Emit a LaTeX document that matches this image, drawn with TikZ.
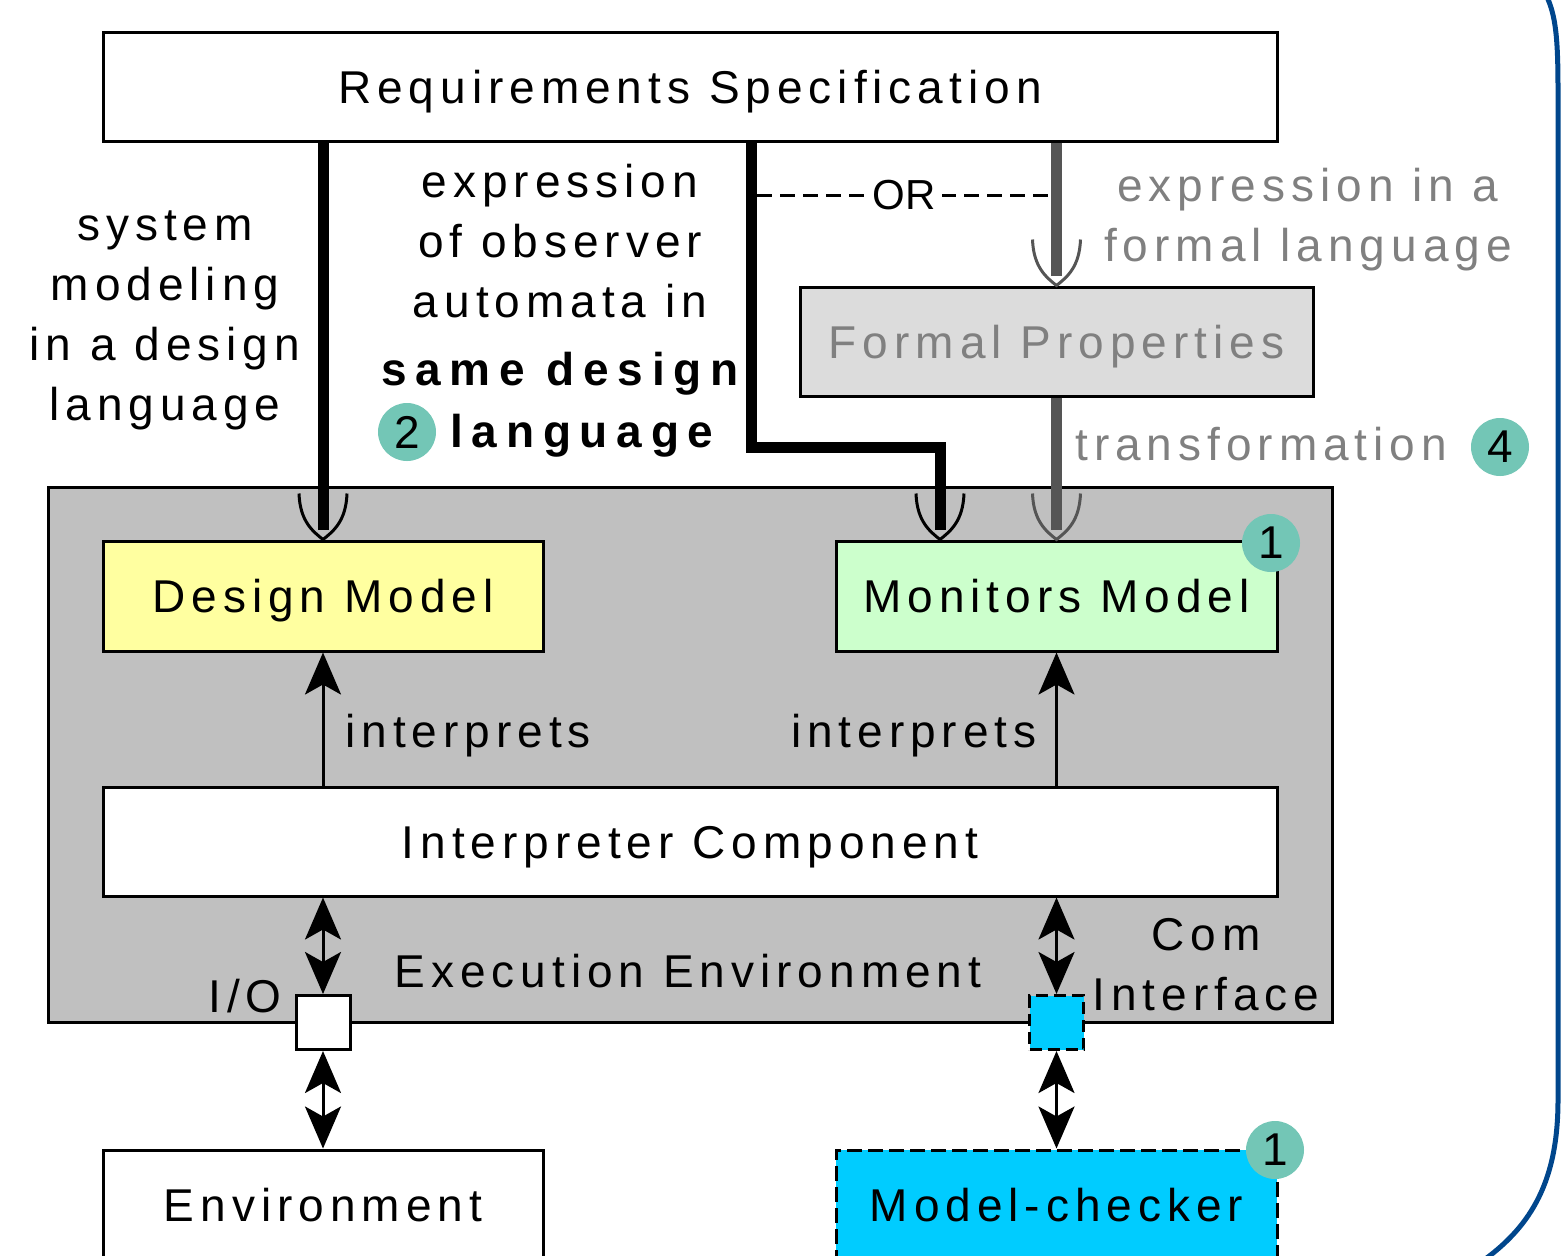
\documentclass[tikz,border=0pt]{standalone}
\usepackage{fontspec}
\setmainfont{Liberation Sans}[LetterSpace=13]
\usetikzlibrary{arrows.meta,calc}
\definecolor{envgray}{RGB}{192,192,192}
\definecolor{fpgray}{RGB}{220,220,220}
\definecolor{txtgray}{RGB}{128,128,128}
\definecolor{linegray}{RGB}{85,85,85}
\definecolor{dmyellow}{RGB}{255,255,160}
\definecolor{mmgreen}{RGB}{204,255,204}
\definecolor{cyanbox}{RGB}{0,204,255}
\definecolor{badgecol}{RGB}{115,198,182}
\definecolor{frameblue}{RGB}{0,70,140}
\tikzset{
  utip/.pic={\draw[line width=1.5pt] (-24,-46) .. controls (-23,-18) and (-10,-8) .. (0,0) .. controls (10,-8) and (23,-18) .. (24,-46);}
}
\newcommand{\bfspaced}[1]{{\bfseries\addfontfeature{LetterSpace=19}#1}}
\begin{document}
\begin{tikzpicture}[x=0.5pt, y=-0.5pt,
  every node/.style={inner sep=0pt},
  fnt/.style={font=\fontsize{23}{30}\selectfont},
  blk/.style={fnt, draw=black, line width=1.5pt, text height=16.5pt, text depth=0pt},
  thk/.style={line width=5.5pt, shorten >=5pt, line join=miter},
  arr/.style={line width=1.5pt, -{Stealth[length=21pt,width=18pt,inset=5pt]}},
  dbl/.style={line width=1.5pt, {Stealth[length=21pt,width=18pt,inset=5pt]}-{Stealth[length=21pt,width=18pt,inset=5pt]}},
  badge/.style={circle, fill=badgecol, minimum size=29pt, fnt},
  lbl/.style={fnt}
]
\useasboundingbox (0,0) rectangle (1564,1255);
\clip (0,0) rectangle (1564,1255);

% execution environment
\node[blk, fill=envgray, minimum width=642pt, minimum height=267.5pt] (ee) at (690,754.5) {};

% boxes
\node[blk, fill=white, minimum width=587pt, minimum height=54.5pt] (req) at (690,86.5) {Requirements Specification};
\node[blk, fill=fpgray, text=txtgray, minimum width=256.5pt, minimum height=54.5pt] (fp) at (1056.5,341.5) {Formal Properties};
\node[blk, fill=dmyellow, minimum width=220pt, minimum height=55pt] (dm) at (323,596) {Design Model};
\node[blk, fill=mmgreen, minimum width=220.5pt, minimum height=55pt] (mm) at (1056.5,596) {Monitors Model};
\node[blk, fill=white, minimum width=587pt, minimum height=54.5pt] (ic) at (690,841.5) {Interpreter Component};
\node[blk, fill=white, minimum width=27pt, minimum height=27pt] (io) at (323,1022.5) {};
\node[blk, fill=cyanbox, dash pattern=on 6pt off 3pt, minimum width=27pt, minimum height=27pt] (ci) at (1056.5,1022.5) {};
\node[blk, fill=white, minimum width=220pt, minimum height=55pt] (env) at (323,1205) {Environment};
\node[blk, fill=cyanbox, dash pattern=on 7.5pt off 3pt, minimum width=220.5pt, minimum height=55pt] (mc) at (1056.5,1205) {Model-checker};

% thick connectors with open tips
\draw[thk] (req.south -| dm.north) -- (dm.north);
\pic at (dm.north) {utip};
\draw[thk] (req.south -| 751,0) -- (751,447) -| ([xshift=-58.25pt]mm.north);
\pic at ([xshift=-58.25pt]mm.north) {utip};
\draw[thk, linegray] (req.south -| fp.north) -- (fp.north);
\pic[linegray] at (fp.north) {utip};
\draw[thk, linegray] (fp.south) -- (mm.north);
\pic[linegray] at (mm.north) {utip};

% OR dashed
\coordinate (orl) at (757,195);
\coordinate (orr) at (1051,195);
\draw[line width=1.5pt, dash pattern=on 7.5pt off 4pt] (orl) -- (orr)
  node[midway, fill=white, inner xsep=3pt, inner ysep=2pt, font=\fontsize{21}{25}\selectfont\addfontfeature{LetterSpace=0}] (or) {OR};

% interprets arrows
\draw[arr] (ic.north -| dm.south) -- (dm.south);
\draw[arr] (ic.north -| mm.south) -- (mm.south);
\node[lbl, anchor=base west] (int1) at (345,747) {interprets};
\node[lbl, anchor=base east] (int2) at (1037,747) {interprets};

% double arrows
\draw[dbl] (ic.south -| io.north) -- (io.north);
\draw[dbl] (io.south) -- (env.north);
\draw[dbl] (ic.south -| ci.north) -- (ci.north);
\draw[dbl] (ci.south) -- (mc.north);

% labels in execution environment
\node[lbl, anchor=base east] (iolbl) at (282,1012) {I/O};
\node[lbl, anchor=base] (eelbl) at (688,987) {Execution Environment};
\node[lbl, align=center] (comlbl) at (1206,965) {Com\\Interface};

% annotations
\node[lbl, align=center] (sysmod) at (165,320) {system\\modeling\\in a design\\language};
\node[lbl, align=center] (obs) at (560,280) {expression\\of observer\\automata in\\[4pt]\bfspaced{same design}};
\node[lbl, anchor=base west] (lang) at (450,447) {\bfspaced{language}};
\node[lbl, align=center, text=txtgray] (formal) at (1308,220) {expression in a\\formal language};
\node[lbl, anchor=base west, text=txtgray] (trans) at (1075,460) {transformation};

% badges
\node[badge] (b1) at (1271,543) {1};
\node[badge] (b1b) at (1275,1150) {1};
\node[badge] (b2) at (407,432) {2};
\node[badge] (b4) at (1500,447) {4};

% frame
\draw[frameblue, line width=2.5pt] (1546,-5) .. controls (1556,15) and (1558,40) .. (1558,90) -- (1558,1100) .. controls (1558,1180) and (1532,1225) .. (1484,1260);
\end{tikzpicture}
\end{document}
